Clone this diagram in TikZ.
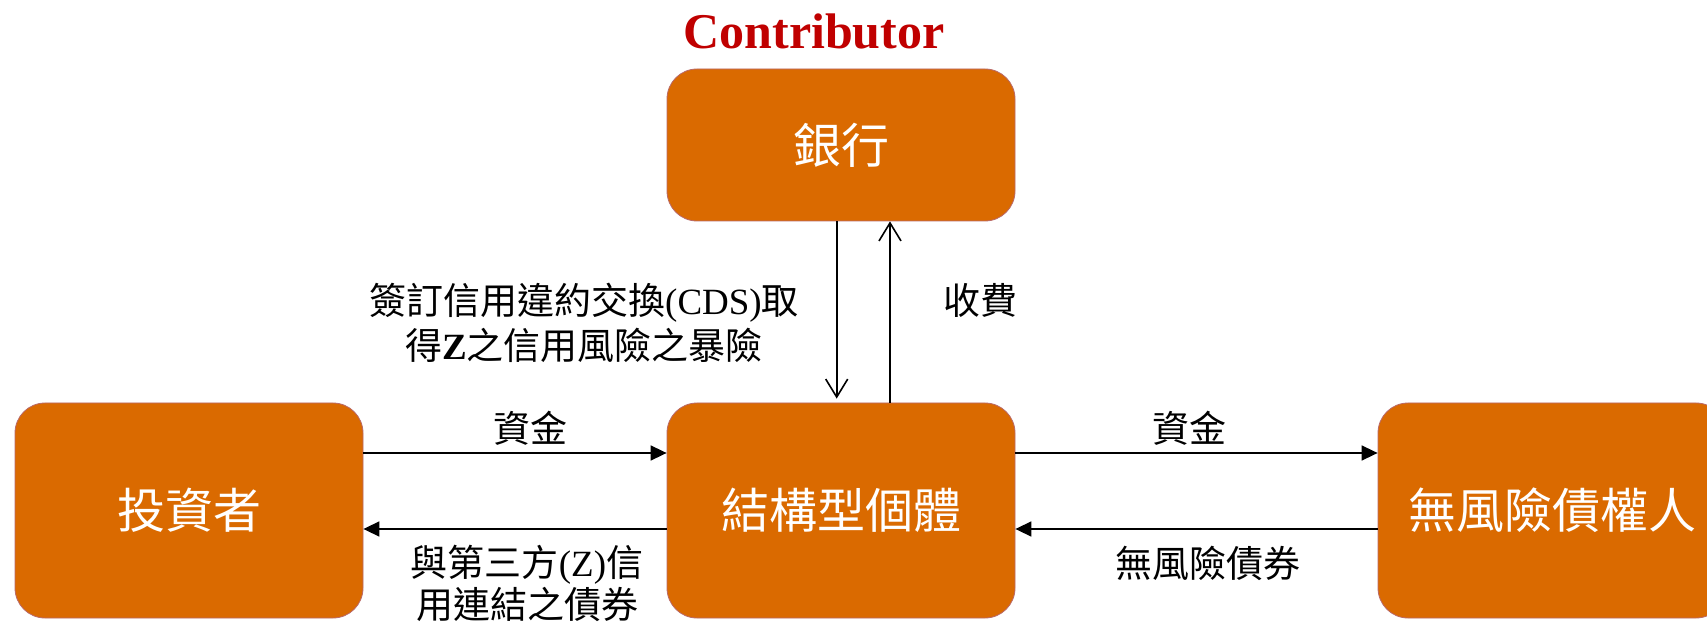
\documentclass[tikz,border=0pt]{standalone}
\usepackage{fontspec}
\setmainfont{Liberation Serif}
\newfontfamily\cjk{Noto Sans CJK TC}
\usetikzlibrary{arrows.meta}
\definecolor{boxorange}{RGB}{218,106,0}
\definecolor{boxedge}{RGB}{185,105,105}
\definecolor{contribred}{RGB}{192,0,0}
\tikzset{
  entity/.style={rounded corners=15pt, fill=boxorange, draw=boxedge, line width=0.4pt,
    text=white, inner sep=0pt, font=\cjk\fontsize{24}{28}\selectfont,
    minimum width=174pt, minimum height=107.5pt},
  flowlabel/.style={font=\cjk\fontsize{18.5}{22.5}\selectfont, align=center, inner sep=0pt},
  fillarrow/.style={line width=0.8pt, -{Triangle[length=8pt,width=7.5pt]}},
  openarrow/.style={line width=0.8pt, -{Straight Barb[length=9pt,width=11pt,line width=0.8pt]}}
}
\begin{document}
\begin{tikzpicture}[x=0.5pt,y=-0.5pt]
\clip (0,0) rectangle (1707,625);
\fill[white] (0,0) rectangle (1707,625);
% nodes
\node[entity, minimum height=76pt] (bank) at (841,145) {\raisebox{-2pt}{銀行}};
\node[entity] (inv) at (189,510.5) {投資者};
\node[entity] (sp) at (841,510.5) {結構型個體};
\node[entity] (rf) at (1552,510.5) {無風險債權人};
\node[font=\bfseries\fontsize{25}{30}\selectfont, text=contribred, inner sep=0pt] (contrib) at (814,31) {Contributor};
% vertical connectors
\draw[openarrow] ([xshift=-2.15pt]bank.south) -- ([xshift=-2.15pt,yshift=2pt]sp.north);
\draw[openarrow] ([xshift=24.5pt]sp.north) -- ([xshift=24.5pt]bank.south);
% horizontal connectors
\draw[fillarrow] ([yshift=28.75pt]inv.east) -- ([yshift=28.75pt]sp.west);
\draw[fillarrow] ([yshift=-9.25pt]sp.west) -- ([yshift=-9.25pt]inv.east);
\draw[fillarrow] ([yshift=28.75pt]sp.east) -- ([yshift=28.75pt]rf.west);
\draw[fillarrow] ([yshift=-9.25pt]rf.west) -- ([yshift=-9.25pt]sp.east);
% labels
\node[flowlabel] (l1) at (530,428) {資金};
\node[flowlabel] (l2) at (1189,428) {資金};
\node[flowlabel, font=\cjk\fontsize{18.5}{21}\selectfont] (l3) at (527,583) {與第三方{\rmfamily (Z)}信\\用連結之債券};
\node[flowlabel] (l4) at (1208,563) {無風險債券};
\node[flowlabel] (l5) at (584,323) {簽訂信用違約交換{\rmfamily (CDS)}取\\得{\rmfamily\bfseries Z}之信用風險之暴險};
\node[flowlabel] (l6) at (980,300) {收費};
\end{tikzpicture}
\end{document}
